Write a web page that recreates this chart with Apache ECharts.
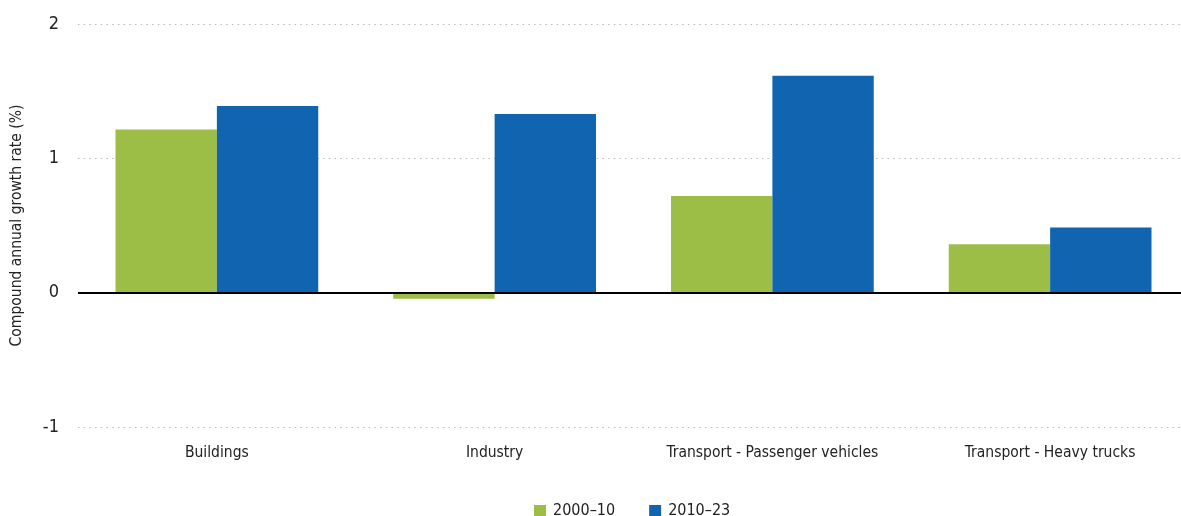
<!DOCTYPE html>
<html>
<head>
<meta charset="utf-8">
<script src="https://cdn.jsdelivr.net/npm/echarts@6/dist/echarts.min.js"></script>
<style>html,body{margin:0;padding:0;background:#fff}#c{width:1181px;height:516px}</style>
</head>
<body>
<div id="c"></div>
<script>
const categories = ['Buildings', 'Industry', 'Transport - Passenger vehicles', 'Transport - Heavy trucks'];
const series2000_10 = [1.215, -0.045, 0.72, 0.36];
const series2010_23 = [1.39, 1.33, 1.615, 0.485];
const yTicks = { min: -1, max: 2, interval: 1 };
const FONT = "'Liberation Sans Narrow', 'DejaVu Sans Condensed', sans-serif";

const chart = echarts.init(document.getElementById('c'));
chart.setOption({
  animation: false,
  textStyle: { fontFamily: FONT },
  grid: { left: 78, top: 24, bottom: 89, width: 1111, outerBoundsMode: 'none', containLabel: false },
  legend: {
    left: 529, top: 498,
    itemWidth: 12, itemHeight: 12, itemGap: 34,
    icon: 'rect',
    textStyle: { fontFamily: FONT, fontSize: 16, color: '#222', padding: [0, 0, 0, 2] },
    data: ['2000–10', '2010–23']
  },
  xAxis: {
    type: 'category',
    data: categories,
    axisLine: { show: false },
    axisTick: { show: false },
    axisLabel: { fontFamily: FONT, fontSize: 15.5, color: '#222', margin: 18, interval: 0 }
  },
  yAxis: {
    type: 'value',
    min: yTicks.min, max: yTicks.max, interval: yTicks.interval,
    name: 'Compound annual growth rate (%)',
    nameLocation: 'middle', nameGap: 53,
    nameTextStyle: { fontFamily: FONT, fontSize: 15.5, color: '#222' },
    axisLine: { show: false },
    axisTick: { show: false },
    axisLabel: { fontFamily: FONT, fontSize: 18, color: '#222', margin: 19 },
    splitLine: { lineStyle: { color: '#bbbbbb', width: 1, type: [1.5, 4.2] } }
  },
  series: [
    {
      name: '2000–10', type: 'bar', data: series2000_10,
      barGap: '0%', barCategoryGap: '27%',
      itemStyle: { color: '#9dbe46' },
      markLine: {
        silent: true, symbol: 'none', label: { show: false },
        lineStyle: { color: '#000', width: 2, type: 'solid' },
        data: [{ yAxis: 0 }]
      }
    },
    {
      name: '2010–23', type: 'bar', data: series2010_23,
      barGap: '0%', barCategoryGap: '27%',
      itemStyle: { color: '#1165b0' }
    }
  ]
});
</script>
</body>
</html>
